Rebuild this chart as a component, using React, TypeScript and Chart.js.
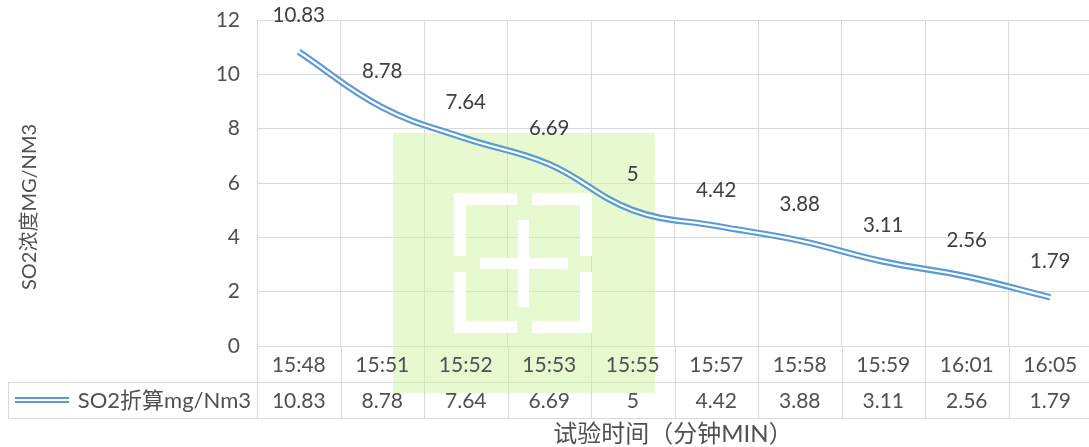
import React, { useEffect, useRef } from 'react';
import { Chart, registerables } from 'chart.js';

Chart.register(...registerables);

const categories = ['15:48', '15:51', '15:52', '15:53', '15:55', '15:57', '15:58', '15:59', '16:01', '16:05'];
const so2Values = [10.83, 8.78, 7.64, 6.69, 5, 4.42, 3.88, 3.11, 2.56, 1.79];
const seriesName = 'SO2折算mg/Nm3';
const yTitle = 'SO2浓度MG/NM3';
const xTitle = '试验时间（分钟MIN）';
const yMin = 0;
const yMax = 12;
const yStep = 2;

const FONT = "Lato, 'Noto Sans CJK SC', sans-serif";
const AXIS_COLOR = '#505050';
const LABEL_COLOR = '#404040';
const GRID = '#D9D9D9';
const BLUE = '#5B9BD5';

const ROW1_BOTTOM = 382;
const ROW2_BOTTOM = 418;
const LEGEND_LEFT = 8;

const tablePlugin = {
  id: 'tablePlugin',
  beforeDatasetsDraw(chart: any) {
    const ctx = chart.ctx;
    const { left, right, bottom } = chart.chartArea;
    const xs = chart.scales.x;
    const n = categories.length;
    const colW = (right - left) / n;
    ctx.save();
    // table lines
    ctx.strokeStyle = GRID;
    ctx.lineWidth = 1;
    ctx.beginPath();
    ctx.moveTo(LEGEND_LEFT, ROW1_BOTTOM + 0.5);
    ctx.lineTo(right, ROW1_BOTTOM + 0.5);
    ctx.moveTo(LEGEND_LEFT, ROW2_BOTTOM + 0.5);
    ctx.lineTo(right, ROW2_BOTTOM + 0.5);
    ctx.moveTo(LEGEND_LEFT + 0.5, ROW1_BOTTOM);
    ctx.lineTo(LEGEND_LEFT + 0.5, ROW2_BOTTOM);
    for (let i = 0; i <= n; i++) {
      const x = Math.round(left + i * colW) + 0.5;
      ctx.moveTo(x, bottom);
      ctx.lineTo(x, ROW2_BOTTOM);
    }
    ctx.stroke();

    // watermark
    ctx.fillStyle = 'rgba(205, 243, 160, 0.5)';
    ctx.fillRect(393, 133, 262, 260);
    ctx.fillStyle = '#FFFFFF';
    const bx0 = 454, bx1 = 592, by0 = 193, by1 = 333, t = 12;
    const gx0 = 517, gx1 = 532, gy0 = 256, gy1 = 272;
    ctx.fillRect(bx0, by0, gx0 - bx0, t);
    ctx.fillRect(gx1, by0, bx1 - gx1, t);
    ctx.fillRect(bx0, by1 - t, gx0 - bx0, t);
    ctx.fillRect(gx1, by1 - t, bx1 - gx1, t);
    ctx.fillRect(bx0, by0, t, gy0 - by0);
    ctx.fillRect(bx0, gy1, t, by1 - gy1);
    ctx.fillRect(bx1 - t, by0, t, gy0 - by0);
    ctx.fillRect(bx1 - t, gy1, t, by1 - gy1);
    ctx.fillRect(518, 220, 11, 87);
    ctx.fillRect(480, 258, 88, 11);

    // table text
    ctx.font = `21px ${FONT}`;
    ctx.fillStyle = AXIS_COLOR;
    ctx.textAlign = 'center';
    ctx.textBaseline = 'middle';
    const r1 = (bottom + ROW1_BOTTOM) / 2 + 1;
    const r2 = (ROW1_BOTTOM + ROW2_BOTTOM) / 2 + 1;
    categories.forEach((c, i) => {
      const x = xs.getPixelForValue(i);
      ctx.fillText(c, x, r1);
      ctx.fillText(String(so2Values[i]), x, r2);
    });
    // legend
    ctx.font = `22px ${FONT}`;
    ctx.textAlign = 'right';
    ctx.fillText(seriesName, left - 6, r2);
    ctx.lineCap = 'butt';
    ctx.strokeStyle = BLUE;
    ctx.lineWidth = 6;
    ctx.beginPath();
    ctx.moveTo(15, r2 - 1);
    ctx.lineTo(69, r2 - 1);
    ctx.stroke();
    ctx.strokeStyle = '#FFFFFF';
    ctx.lineWidth = 2;
    ctx.beginPath();
    ctx.moveTo(15, r2 - 1);
    ctx.lineTo(69, r2 - 1);
    ctx.stroke();

    // axis titles
    ctx.fillStyle = AXIS_COLOR;
    ctx.font = `24px ${FONT}`;
    ctx.textAlign = 'center';
    ctx.fillText(xTitle, 673, 434);
    ctx.translate(30, 207);
    ctx.rotate(-Math.PI / 2);
    ctx.font = `20px ${FONT}`;
    ctx.fillText(yTitle, 0, 0);
    ctx.restore();
  },
  afterDatasetsDraw(chart: any) {
    const ctx = chart.ctx;
    const xs = chart.scales.x;
    const ys = chart.scales.y;
    ctx.save();
    ctx.font = `20.5px ${FONT}`;
    ctx.fillStyle = LABEL_COLOR;
    ctx.textAlign = 'center';
    ctx.textBaseline = 'middle';
    so2Values.forEach((v, i) => {
      ctx.fillText(String(v), xs.getPixelForValue(i), ys.getPixelForValue(v) - 36);
    });
    ctx.restore();
  },
};

export default function App() {
  const ref = useRef<HTMLCanvasElement | null>(null);
  useEffect(() => {
    if (!ref.current) return;
    const chart = new Chart(ref.current, {
      type: 'line',
      data: {
        labels: categories,
        datasets: [
          {
            label: seriesName + ' inner',
            data: so2Values,
            borderColor: '#FFFFFF',
            borderWidth: 2.2,
            pointRadius: 0,
            tension: 0.4,
            fill: false,
            borderCapStyle: 'butt',
            order: 1,
          },
          {
            label: seriesName,
            data: so2Values,
            borderColor: BLUE,
            borderWidth: 6.5,
            pointRadius: 0,
            tension: 0.4,
            fill: false,
            borderCapStyle: 'butt',
            order: 2,
          },
        ],
      },
      options: {
        responsive: false,
        animation: false,
        devicePixelRatio: 1,
        layout: { autoPadding: false, padding: { top: 20, right: 0, bottom: 101, left: 0 } },
        plugins: { legend: { display: false }, tooltip: { enabled: false }, title: { display: false } },
        scales: {
          x: {
            type: 'category',
            offset: true,
            ticks: { display: false },
            grid: { color: GRID, offset: true, drawTicks: false },
            border: { color: GRID },
            afterFit: (s: any) => {
              s.height = 0;
              s.paddingLeft = 0;
              s.paddingRight = 0;
            },
          },
          y: {
            min: yMin,
            max: yMax,
            ticks: { stepSize: yStep, color: AXIS_COLOR, font: { family: FONT, size: 21 }, padding: 17 },
            grid: { color: GRID, drawTicks: false },
            border: { display: false },
            afterFit: (s: any) => {
              s.width = 257;
              s.paddingTop = 0;
              s.paddingBottom = 0;
            },
          },
        },
      },
      plugins: [tablePlugin],
    } as any);
    return () => chart.destroy();
  }, []);
  return (
    <div style={{ position: 'fixed', left: 0, top: 0, width: 1089, height: 447, overflow: 'hidden', background: '#fff' }}>
      <canvas ref={ref} width={1092} height={447} style={{ width: 1092, height: 447, display: 'block' }} />
    </div>
  );
}
